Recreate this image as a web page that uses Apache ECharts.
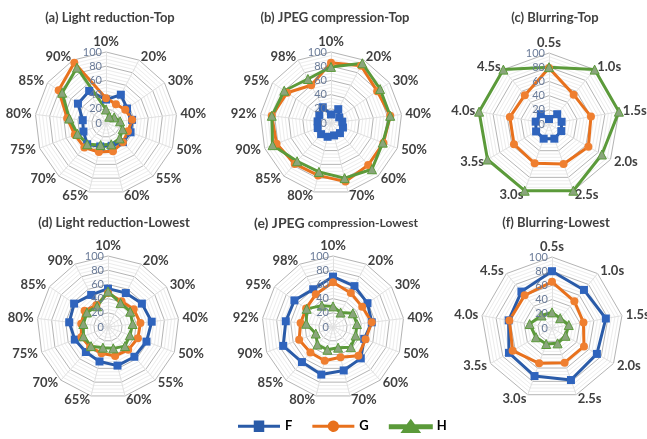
<!DOCTYPE html>
<html>
<head>
<meta charset="utf-8">
<script src="https://cdn.jsdelivr.net/npm/echarts@6/dist/echarts.min.js"></script>
<style>
html, body { margin: 0; padding: 0; background: #fff; }
#box { width: 647px; height: 439px; }
</style>
</head>
<body>
<div id="box"></div>
<script>
// axis categories
var lightAxes = ['10%', '20%', '30%', '40%', '50%', '55%', '60%', '65%', '70%', '75%', '80%', '85%', '90%'];
var jpegAxes = ['10%', '20%', '30%', '40%', '50%', '60%', '70%', '80%', '85%', '90%', '92%', '95%', '98%'];
var blurAxes = ['0.5s', '1.0s', '1.5s', '2.0s', '2.5s', '3.0s', '3.5s', '4.0s', '4.5s'];

// (a) Light reduction-Top
var lightTopF = [33, 45, 36, 37, 37, 36, 33, 34, 40, 34, 33, 48, 51];
var lightTopG = [35, 30, 33, 37, 33, 36, 41, 42, 46, 47, 55, 81, 96];
var lightTopH = [19, 10, 14, 20, 25, 29, 31, 32, 40, 43, 52, 75, 88];
// (b) JPEG compression-Top
var jpegTopF = [12, 22, 14, 16, 18, 19, 18, 20, 21, 20, 19, 20, 25];
var jpegTopG = [85, 91, 79, 84, 79, 79, 85, 76, 77, 82, 84, 75, 60];
var jpegTopH = [79, 95, 84, 84, 78, 87, 80, 71, 72, 88, 84, 80, 70];
// (c) Blurring-Top
var blurTopF = [7, 18, 18, 20, 22, 22, 21, 19, 18];
var blurTopG = [79, 54, 60, 64, 60, 59, 57, 56, 53];
var blurTopH = [80, 100, 100, 86, 100, 100, 100, 100, 100];
// (d) Light reduction-Lowest
var lightLowF = [54, 54, 58, 62, 58, 56, 56, 50, 47, 50, 55, 58, 51];
var lightLowG = [48, 41, 44, 46, 45, 43, 42, 38, 38, 40, 38, 40, 35];
var lightLowH = [50, 38, 38, 35, 33, 36, 31, 30, 36, 37, 35, 36, 33];
// (e) JPEG compression-Lowest
var jpegLowF = [71, 65, 59, 55, 47, 59, 63, 69, 66, 75, 67, 66, 60];
var jpegLowG = [63, 54, 50, 55, 49, 54, 44, 49, 48, 51, 46, 46, 52];
var jpegLowH = [29, 23, 34, 34, 34, 38, 30, 33, 33, 26, 38, 45, 34];
// (f) Blurring-Lowest
var blurLowF = [80, 70, 77, 73, 78, 72, 70, 62, 67];
var blurLowG = [65, 49, 45, 52, 52, 53, 64, 61, 60];
var blurLowH = [22, 18, 24, 22, 23, 24, 26, 32, 23];

var radiusMin = 0, radiusMax = 100, radiusStep = 20;

var font = 'Lato, sans-serif';
var colF = '#2a5ba8', colG = '#e8711d', colH = '#5b9a3a';

var panels = [
    { title: '(a) Light reduction-Top', axes: lightAxes, F: lightTopF, G: lightTopG, H: lightTopH, cx: 106, cy: 123, tx: 105, ty: 6 },
    { title: '(b) JPEG compression-Top', axes: jpegAxes, F: jpegTopF, G: jpegTopG, H: jpegTopH, cx: 331, cy: 123, tx: 330, ty: 6 },
    { title: '(c) Blurring-Top', axes: blurAxes, F: blurTopF, G: blurTopG, H: blurTopH, cx: 549, cy: 124, tx: 550, ty: 6 },
    { title: '(d) Light reduction-Lowest', axes: lightAxes, F: lightLowF, G: lightLowG, H: lightLowH, cx: 108, cy: 327, tx: 109, ty: 211 },
    { title: '{a|(e) JPEG} {b|compression-Lowest}', axes: jpegAxes, F: jpegLowF, G: jpegLowG, H: jpegLowH, cx: 333, cy: 327, tx: 331, ty: 211 },
    { title: '(f) Blurring-Lowest', axes: blurAxes, F: blurLowF, G: blurLowG, H: blurLowH, cx: 552, cy: 328, tx: 551, ty: 211 }
];

// echarts radar goes counter-clockwise, excel goes clockwise
function cw(arr) {
    return [arr[0]].concat(arr.slice(1).reverse());
}

var gridColors = [];
for (var i = 0; i < 4; i++) gridColors.push(i == 0 ? '#b4b4b4' : '#ececec');

var option = {
    animation: false,
    backgroundColor: '#fff',
    title: [],
    radar: [],
    polar: [],
    angleAxis: [],
    radiusAxis: [],
    legend: {
        bottom: 1,
        left: 233,
        itemWidth: 42,
        itemHeight: 12,
        itemGap: 20,
        textStyle: { fontFamily: font, fontWeight: 'bold', fontSize: 13, color: '#000' },
        data: [
            { name: 'F', icon: 'path://M0,4.5H15V0.5H25V4.5H40V7.5H25V11.5H15V7.5H0Z', itemStyle: { color: colF } },
            { name: 'G', icon: 'path://M0,4.5H14.71A5.5,5.5,0,0,1,25.29,4.5H40V7.5H25.29A5.5,5.5,0,0,1,14.71,7.5H0Z', itemStyle: { color: colG } },
            { name: 'H', icon: 'path://M0,4.5H16.73L20,0L23.27,4.5H40V7.5H25.45L28,11H12L14.55,7.5H0Z', itemStyle: { color: colH } }
        ]
    },
    series: []
};

panels.forEach(function (p, idx) {
    option.title.push({
        text: p.title,
        left: p.tx,
        top: p.ty,
        textAlign: 'center',
        textStyle: {
            fontFamily: font, fontWeight: 'bold', fontSize: 13, color: '#404040',
            rich: {
                a: { fontFamily: font, fontWeight: 'bold', fontSize: 14, color: '#404040' },
                b: { fontFamily: font, fontWeight: 'bold', fontSize: 12, color: '#404040' }
            }
        }
    });
    option.radar.push({
        center: [p.cx, p.cy],
        radius: 71,
        startAngle: 90,
        shape: 'polygon',
        splitNumber: 20,
        indicator: cw(p.axes).map(function (n) { return { name: n, min: radiusMin, max: radiusMax }; }),
        axisName: { color: '#404040', fontFamily: font, fontWeight: 'bold', fontSize: 13 },
        nameGap: 4,
        axisLine: { lineStyle: { color: '#e0e0e0', width: 1 } },
        splitLine: { lineStyle: { color: gridColors, width: 1 } },
        splitArea: { show: false },
        axisTick: { show: false },
        axisLabel: { show: false }
    });
    option.polar.push({ center: [p.cx, p.cy], radius: [0, 71] });
    option.angleAxis.push({ polarIndex: idx, show: false, startAngle: 90, type: 'value', min: 0, max: 360 });
    option.radiusAxis.push({
        polarIndex: idx,
        type: 'value',
        min: radiusMin,
        max: radiusMax,
        interval: radiusStep,
        axisLine: { show: false },
        axisTick: { show: false },
        splitLine: { show: false },
        axisLabel: { color: '#6a7b98', fontFamily: font, fontSize: 11, margin: 4 },
        z: 5
    });
    option.series.push({
        type: 'radar',
        radarIndex: idx,
        z: 3,
        data: [
            { name: 'F', value: cw(p.F), symbol: 'rect', symbolSize: 8,
              lineStyle: { color: colF, width: 3 }, itemStyle: { color: '#2f64bd' } },
            { name: 'G', value: cw(p.G), symbol: 'circle', symbolSize: 8,
              lineStyle: { color: colG, width: 3 }, itemStyle: { color: '#ef7f30' } },
            { name: 'H', value: cw(p.H), symbol: 'triangle', symbolSize: 9,
              lineStyle: { color: colH, width: 3 }, itemStyle: { color: '#8aa57c', borderColor: colH, borderWidth: 1 } }
        ]
    });
});

var chart = echarts.init(document.getElementById('box'));
chart.setOption(option);
</script>
</body>
</html>
